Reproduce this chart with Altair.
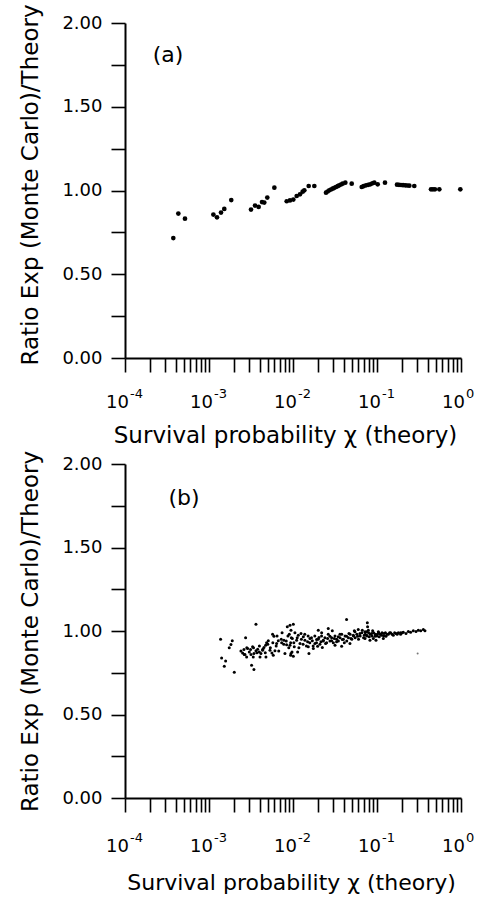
import altair as alt
import pandas as pd

FONT = "DejaVu Sans"

# ---------------- data ----------------
# panel (a): log10(chi) and ratio
a_log_chi = [-3.425, -3.365, -3.286, -2.948, -2.905, -2.857, -2.818, -2.735, -2.500, -2.452,
             -2.409, -2.369, -2.342, -2.306, -2.222, -2.075, -2.036, -1.996, -1.956, -1.917,
             -1.885, -1.865, -1.813, -1.746, -1.607, -1.588, -1.568, -1.548, -1.528, -1.508,
             -1.488, -1.468, -1.449, -1.429, -1.409, -1.377, -1.301, -1.182, -1.160, -1.131,
             -1.105, -1.080, -1.055, -1.032, -0.992, -0.905, -0.762, -0.738, -0.714, -0.690,
             -0.663, -0.640, -0.615, -0.556, -0.357, -0.334, -0.310, -0.258, -0.008]
a_ratio = [0.716, 0.862, 0.832, 0.856, 0.840, 0.868, 0.890, 0.943, 0.886, 0.910,
           0.902, 0.931, 0.928, 0.958, 1.017, 0.936, 0.941, 0.946, 0.967, 0.977,
           0.993, 1.001, 1.027, 1.027, 0.987, 0.994, 1.001, 1.006, 1.011, 1.016,
           1.021, 1.026, 1.031, 1.036, 1.041, 1.047, 1.041, 1.021, 1.026, 1.031,
           1.034, 1.037, 1.043, 1.047, 1.037, 1.047, 1.035, 1.034, 1.033, 1.032,
           1.031, 1.030, 1.029, 1.027, 1.007, 1.007, 1.007, 1.007, 1.007]

# panel (b): (log10(chi), ratio)
b_points = [
    (-2.441, 1.041), (-2.862, 0.951), (-2.564, 0.959), (-2.759, 0.899), (-2.739, 0.919),
    (-2.723, 0.941), (-2.850, 0.839), (-2.802, 0.821), (-2.818, 0.789), (-2.699, 0.753),
    (-2.493, 0.795), (-2.465, 0.769), (-2.600, 0.869), (-2.572, 0.859), (-2.552, 0.845),
    (-2.584, 0.889), (-2.540, 0.895), (-2.520, 0.875), (-2.505, 0.889), (-2.481, 0.905),
    (-2.465, 0.865), (-2.441, 0.881), (-2.421, 0.891), (-2.401, 0.875), (-2.382, 0.865),
    (-2.362, 0.885), (-2.346, 0.901), (-2.326, 0.915), (-2.314, 0.929), (-2.294, 0.941),
    (-2.322, 0.845), (-2.274, 0.885), (-2.251, 0.869), (-2.235, 0.855), (-2.215, 0.881),
    (-2.243, 0.981), (-2.227, 0.969), (-2.195, 0.925), (-2.175, 0.941), (-2.135, 0.929),
    (-2.108, 0.945), (-2.096, 0.865), (-2.076, 0.917), (-2.068, 1.025), (-2.044, 0.981),
    (-2.028, 0.929), (-2.012, 0.875), (-2.028, 0.855), (-2.473, 0.845), (-2.393, 0.845),
    (-2.036, 1.035), (-1.996, 1.041), (-2.024, 1.005), (-1.977, 0.989), (-1.937, 0.975),
    (-1.905, 0.985), (-1.877, 0.965), (-2.008, 0.955), (-1.957, 0.945), (-1.917, 0.925),
    (-2.036, 0.915), (-1.985, 0.905), (-2.024, 0.865), (-1.996, 0.849), (-1.945, 0.875),
    (-1.858, 0.945), (-1.826, 0.935), (-1.798, 0.955), (-1.770, 0.941), (-1.739, 0.925),
    (-1.719, 0.949), (-1.691, 0.961), (-1.667, 0.935), (-1.639, 0.945), (-1.612, 0.925),
    (-1.588, 0.955), (-1.560, 0.969), (-1.540, 0.941), (-1.508, 0.955), (-1.481, 0.935),
    (-1.461, 0.965), (-1.441, 0.981), (-1.413, 0.949), (-1.389, 0.929), (-1.362, 0.969),
    (-1.334, 0.985), (-1.310, 0.955), (-1.282, 0.975), (-1.262, 0.995), (-1.231, 0.969),
    (-1.203, 0.985), (-1.175, 1.005), (-1.151, 0.975), (-1.123, 0.995), (-1.112, 1.025),
    (-1.810, 0.865), (-1.699, 1.005), (-1.659, 0.989), (-1.580, 1.015), (-1.532, 1.001),
    (-1.223, 1.009), (-1.270, 1.001), (-1.818, 0.905), (-1.758, 0.895), (-1.707, 0.909),
    (-1.651, 0.901), (-1.500, 0.915), (-1.421, 0.909), (-1.322, 0.925), (-1.362, 1.069),
    (-1.115, 1.049), (-1.143, 0.995), (-1.123, 0.975), (-1.092, 0.965), (-1.064, 0.985),
    (-1.044, 0.955), (-1.024, 0.969), (-0.996, 0.981), (-0.973, 0.965), (-0.945, 0.975),
    (-0.917, 0.985), (-0.893, 0.969), (-0.865, 0.981), (-0.838, 0.989), (-0.806, 0.975),
    (-0.774, 0.985), (-0.746, 0.989), (-0.719, 0.981), (-0.687, 0.993), (-0.655, 0.985),
    (-0.627, 0.997), (-0.600, 0.993), (-0.568, 1.001), (-0.536, 0.997), (-0.508, 1.005),
    (-0.480, 1.001), (-0.449, 1.009), (-0.429, 1.001), (-1.103, 1.005), (-1.052, 1.001),
    (-1.012, 0.945), (-1.143, 0.955), (-1.084, 0.945), (-0.925, 0.955), (-0.984, 0.995),
    (-1.95, 0.96), (-1.93, 0.90), (-1.90, 0.95), (-1.88, 0.92), (-1.86, 0.98),
    (-1.84, 0.91), (-1.82, 0.97), (-1.80, 0.93), (-1.78, 0.96), (-1.76, 0.91),
    (-1.74, 0.97), (-1.72, 0.93), (-1.70, 0.95), (-1.68, 0.92), (-1.66, 0.97),
    (-1.64, 0.94), (-1.62, 0.96), (-1.60, 0.93), (-1.58, 0.98), (-1.56, 0.94),
    (-1.54, 0.96), (-1.52, 0.93), (-1.50, 0.97), (-1.48, 0.95), (-1.46, 0.94),
    (-1.44, 0.96), (-1.42, 0.98), (-1.40, 0.95), (-1.38, 0.97), (-1.36, 0.94),
    (-1.34, 0.96), (-1.32, 0.98), (-1.30, 0.95), (-1.28, 0.97), (-1.26, 0.96),
    (-1.24, 0.98), (-1.22, 0.95), (-1.20, 0.97), (-1.18, 0.99), (-1.16, 0.96),
    (-1.14, 0.98), (-1.12, 0.97), (-1.10, 0.99), (-1.08, 0.98), (-1.06, 0.97),
    (-1.04, 0.99), (-1.02, 0.98), (-1.00, 0.97), (-0.98, 0.99), (-0.96, 0.98),
    (-0.94, 0.99), (-0.92, 0.97), (-0.90, 0.99), (-0.88, 0.98), (-0.85, 0.99),
    (-0.82, 0.98), (-0.79, 0.99), (-0.76, 0.98), (-0.72, 0.99), (-0.70, 0.99),
    (-2.62, 0.88), (-2.58, 0.86), (-2.55, 0.90), (-2.50, 0.86), (-2.47, 0.90),
    (-2.43, 0.87), (-2.40, 0.91), (-2.36, 0.89), (-2.33, 0.87), (-2.30, 0.92),
    (-2.27, 0.90), (-2.24, 0.93), (-2.20, 0.91), (-2.17, 0.88), (-2.14, 0.95),
    (-2.11, 0.92), (-2.08, 0.94), (-2.05, 0.90), (-2.02, 0.96), (-1.99, 0.93),
    (-2.19, 0.97), (-2.13, 0.99), (-2.06, 0.97),
]
# faint lone point in panel (b)
b_faint_points = [(-0.516, 0.865)]

decade_values = [1e-4, 1e-3, 1e-2, 1e-1, 1.0]
decade_base = ["10", "10", "10", "10", "10"]
decade_exp = ["-4", "-3", "-2", "-1", "0"]
y_tick_values = [0, 0.25, 0.5, 0.75, 1.0, 1.25, 1.5, 1.75, 2.0]
x_tick_values = [m * 10.0 ** e for e in range(-4, 0) for m in range(1, 10)] + [1.0]

X_TITLE = "Survival probability χ (theory)"
Y_TITLE = "Ratio Exp (Monte Carlo)/Theory"

assert len(a_log_chi) == len(a_ratio)
df_a = pd.DataFrame({"chi": [10.0 ** v for v in a_log_chi], "ratio": a_ratio})
df_b = pd.DataFrame({"chi": [10.0 ** p[0] for p in b_points], "ratio": [p[1] for p in b_points]})
df_bf = pd.DataFrame({"chi": [10.0 ** p[0] for p in b_faint_points],
                      "ratio": [p[1] for p in b_faint_points]})
df_dec = pd.DataFrame({"chi": decade_values, "base": decade_base, "exp": decade_exp})

W = 336


def panel(df, H, dot_size, tag, tag_x, tag_y, lab_off, exp_off, title_x, title_y,
          title_size, ytitle_shift, extra=None):
    xscale = alt.Scale(type="log", domain=[1e-4, 1], nice=False)
    x_axis = alt.Axis(values=x_tick_values, labels=False, grid=False,
                      tickSize=14, tickWidth=1.6, tickColor="black",
                      domainColor="black", domainWidth=2,
                      title=X_TITLE, titleFont=FONT, titleFontSize=title_size,
                      titleFontWeight="normal", titleColor="black",
                      titleX=title_x, titleY=title_y,
                      titleBaseline="alphabetic", titleAlign="center")
    xenc = alt.X("chi:Q", scale=xscale, axis=x_axis)
    yenc = alt.Y("ratio:Q", scale=alt.Scale(domain=[0, 2], nice=False, zero=False),
                 axis=alt.Axis(values=y_tick_values, grid=False,
                               labelExpr="datum.value % 0.5 == 0 ? format(datum.value, '.2f') : ''",
                               labelFont=FONT, labelFontSize=18, labelColor="black",
                               labelPadding=9, labelFlush=False, labelOverlap=False,
                               tickSize=14, tickWidth=1.6, tickColor="black",
                               domainColor="black", domainWidth=2,
                               title=Y_TITLE, titleFont=FONT, titleFontSize=23,
                               titleFontWeight="normal", titleColor="black",
                               titleAngle=270, titleX=-88, titleY=H / 2 + ytitle_shift,
                               titleBaseline="alphabetic", titleAlign="center"))
    pts = alt.Chart(df).mark_circle(size=dot_size, color="black", opacity=1).encode(
        x=xenc, y=yenc)
    layers = [pts]
    if extra is not None:
        layers.append(alt.Chart(extra).mark_circle(size=4, color="#777777", opacity=1)
                      .encode(x=xenc, y=yenc))
    base = alt.Chart(df_dec).mark_text(
        align="right", baseline="alphabetic", dx=4, font=FONT, fontSize=18, color="black"
    ).encode(x=xenc, y=alt.value(H + lab_off), text="base:N")
    exps = alt.Chart(df_dec).mark_text(
        align="left", baseline="alphabetic", dx=5, font=FONT, fontSize=13, color="black"
    ).encode(x=xenc, y=alt.value(H + exp_off), text="exp:N")
    lab = alt.Chart(pd.DataFrame({"t": [tag]})).mark_text(
        align="center", baseline="alphabetic", font=FONT, fontSize=22, color="black"
    ).encode(x=alt.value(tag_x), y=alt.value(tag_y), text="t:N")
    layers += [base, exps, lab]
    return alt.layer(*layers).properties(width=W, height=H)


pa = panel(df_a, 335, 22, "(a)", 43, 39, 50, 40, 160, 84, 23, -6)
pb = panel(df_b, 334, 9, "(b)", 59, 41, 54, 44, 166, 91, 22, 0, extra=df_bf)

chart = alt.vconcat(pa, pb, spacing=106, bounds="flush").properties(
    autosize=alt.AutoSizeParams(type="pad"),
    padding={"left": 18, "top": 3, "right": 5, "bottom": 5},
).configure(background="white", view=alt.ViewConfig(strokeWidth=0, stroke=None))

chart.save("out.html", embed_options={"renderer": "svg", "actions": False})
